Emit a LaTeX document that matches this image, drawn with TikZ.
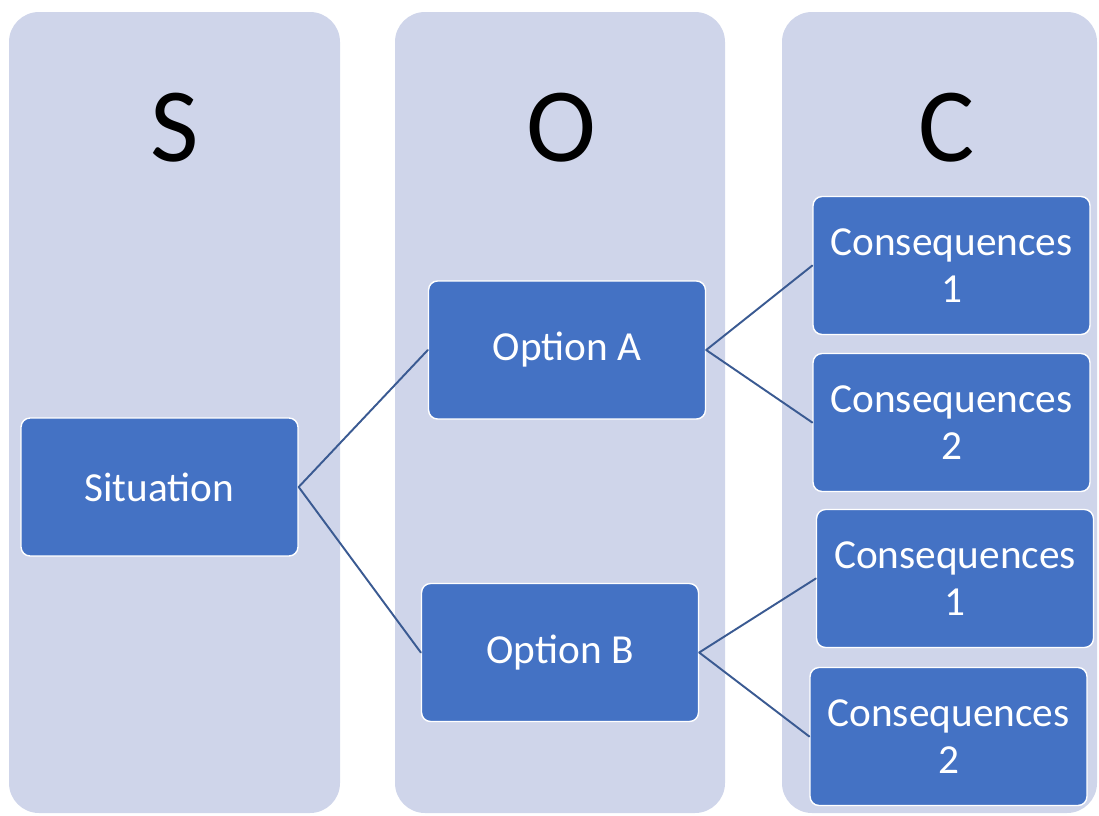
\documentclass[tikz,border=0pt]{standalone}
\usepackage{fontspec}
\setmainfont{Carlito}
\definecolor{colfill}{HTML}{CFD5EA}
\definecolor{boxblue}{HTML}{4472C4}
\definecolor{linkblue}{HTML}{3A5A92}
\tikzset{
 column/.style={fill=colfill,rounded corners=0.6cm},
 letter/.style={font=\fontsize{60}{61}\selectfont},
 box/.style={draw=white,line width=0.8pt,fill=boxblue,text=white,rounded corners=0.18cm,
  minimum width=5.54cm,minimum height=2.76cm,inner sep=0pt,align=center,
  font=\fontsize{23.5}{26.6}\selectfont},
 link/.style={draw=linkblue,line width=1.1pt}
}
\begin{document}
\begin{tikzpicture}[x=0.02cm,y=-0.02cm,line join=round,line cap=round]
 \useasboundingbox (0,0) rectangle (1099,815);
 % the three columns
 \fill[column] (9,12) rectangle (340,813);
 \fill[column] (395,12) rectangle (725,813);
 \fill[column] (782,12) rectangle (1097,813);
 \node[letter] (S) at (175,128) {S};
 \node[letter] (O) at (561,128) {O};
 \node[letter] (C) at (947,128) {C};
 % boxes
 \node[box] (sit) at (159.5,487) {Situation};
 \node[box] (optA) at (567,350) {Option A};
 \node[box] (optB) at (560,652.5) {Option B};
 \node[box] (consA1) at (951.5,265.5) {Consequences\\1};
 \node[box] (consA2) at (951.5,422.5) {Consequences\\2};
 \node[box] (consB1) at (955,578.5) {Consequences\\1};
 \node[box] (consB2) at (948.5,736.5) {Consequences\\2};
 \draw[link]
 (sit.east)--(optA.west)
 (sit.east)--(optB.west)
 (optA.east)--(consA1.west)
 (optA.east)--(consA2.west)
 (optB.east)--(consB1.west)
 (optB.east)--(consB2.west)
 ;
\end{tikzpicture}
\end{document}
